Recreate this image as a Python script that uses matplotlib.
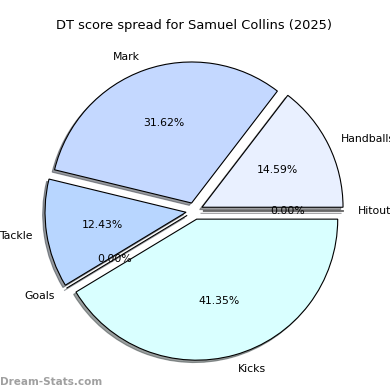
import matplotlib
matplotlib.use("Agg")
import matplotlib.pyplot as plt

# dane
kategorie = ["Hitouts", "Handballs", "Mark", "Tackle", "Goals", "Kicks"]
procenty = [0.0, 14.59, 31.62, 12.43, 0.0, 41.35]
kolory = ["#f0f4ff", "#e9f0ff", "#c4d8ff", "#b8d6ff", "#b8d6ff", "#d9ffff"]
rozsuniecie = [0.06, 0.06, 0.06, 0.06, 0.06, 0.06]

fig = plt.figure(figsize=(3.9, 3.9), dpi=100)
ax = fig.add_axes([0.0465, 0.007, 0.904, 0.904])
ax.pie(procenty, labels=kategorie, colors=kolory, explode=rozsuniecie,
       autopct="%1.2f%%", startangle=0,
       shadow={"ox": -0.012, "oy": -0.012, "shade": 0.75},
       wedgeprops={"edgecolor": "black", "linewidth": 0.8},
       textprops={"fontsize": 7.8})
ax.set_title("DT score spread for Samuel Collins (2025)", fontsize=9.4, pad=4)
fig.text(0.0, 0.012, "Dream-Stats.com", fontsize=7.5, color="gray", alpha=0.75,
         fontweight="bold")
plt.savefig("out.png", dpi=100)
